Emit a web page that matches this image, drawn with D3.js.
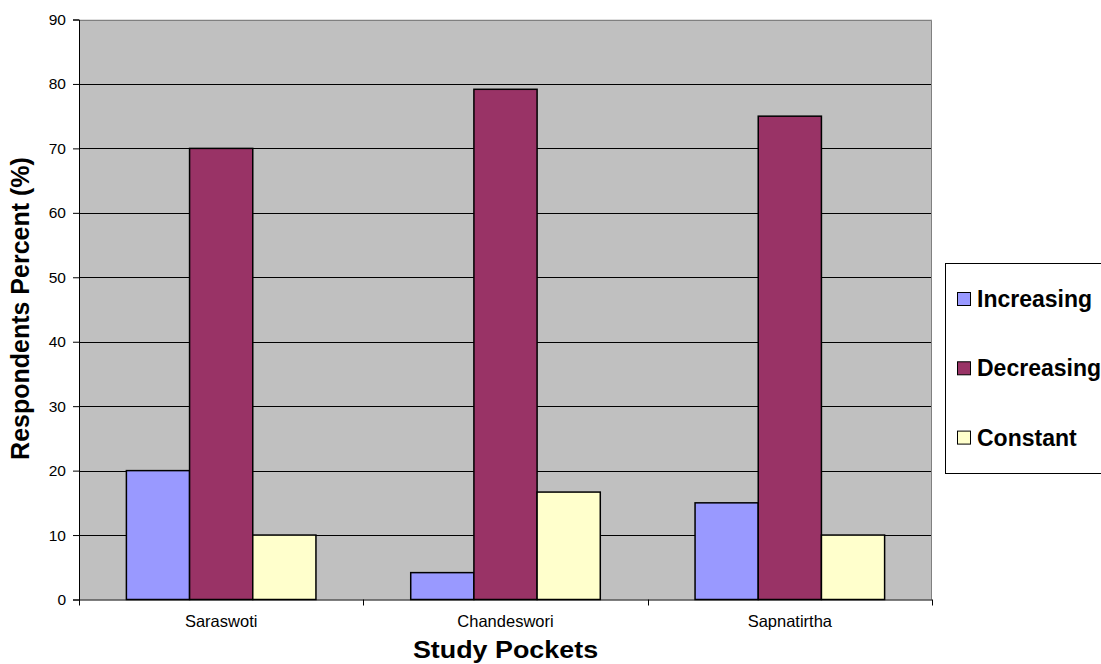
<!DOCTYPE html>
<html>
<head>
<meta charset="utf-8">
<script src="https://cdn.jsdelivr.net/npm/d3@7"></script>
<style>
  html, body { margin: 0; padding: 0; background: #ffffff; }
  svg { display: block; font-family: Arial, "Liberation Sans", sans-serif; }
</style>
</head>
<body>
<svg id="chart" width="1101" height="664"></svg>
<script>
// Study pockets and the share of respondents per perceived trend
const pockets = ["Saraswoti", "Chandeswori", "Sapnatirtha"];
const trends = ["Increasing", "Decreasing", "Constant"];
const increasing = [20, 4.17, 15];
const decreasing = [70, 79.17, 75];
const constant = [10, 16.67, 10];
const yTicks = [0, 10, 20, 30, 40, 50, 60, 70, 80, 90];
const trendColors = ["#9999ff", "#993366", "#ffffcc"];

const seriesValues = [increasing, decreasing, constant];

const svg = d3.select("#chart");
const plot = { left: 79, right: 932, top: 19.5, bottom: 599.5 };

const x0 = d3.scaleBand().domain(pockets).range([plot.left, plot.right]).padding(0);
const bw = x0.bandwidth();
const x1 = d3.scaleBand().domain(trends).range([bw / 6, bw * 5 / 6]).padding(0);
const y = d3.scaleLinear().domain([0, 90]).range([plot.bottom, plot.top]);
const color = d3.scaleOrdinal().domain(trends).range(trendColors);

// plot background
svg.append("rect")
  .attr("x", plot.left).attr("y", plot.top)
  .attr("width", plot.right - plot.left).attr("height", plot.bottom - plot.top)
  .attr("fill", "#c0c0c0");

// horizontal gridlines
svg.append("g").selectAll("line")
  .data(yTicks.filter(t => t > 0 && t < 90))
  .join("line")
  .attr("x1", plot.left).attr("x2", plot.right)
  .attr("y1", d => Math.round(y(d)) + 0.5).attr("y2", d => Math.round(y(d)) + 0.5)
  .attr("stroke", "#000").attr("stroke-width", 1);

// plot border (top and right)
svg.append("path")
  .attr("d", `M${plot.left},${Math.round(plot.top) + 0.5}H${plot.right - 0.5}V${plot.bottom}`)
  .attr("fill", "none").attr("stroke", "#808080").attr("stroke-width", 1);

// bars
const rows = pockets.map((p, i) => ({ pocket: p, values: trends.map((t, j) => ({ trend: t, value: seriesValues[j][i] })) }));
svg.append("g").selectAll("g")
  .data(rows)
  .join("g")
  .attr("transform", d => `translate(${x0(d.pocket)},0)`)
  .selectAll("rect")
  .data(d => d.values)
  .join("rect")
  .attr("x", d => x1(d.trend))
  .attr("y", d => y(d.value))
  .attr("width", x1.bandwidth())
  .attr("height", d => y(0) - y(d.value))
  .attr("fill", d => color(d.trend))
  .attr("stroke", "#000")
  .attr("stroke-width", 1.5);

// y axis
const yAxis = svg.append("g")
  .attr("transform", `translate(${plot.left},0)`)
  .call(d3.axisLeft(y).tickValues(yTicks).tickSize(6).tickPadding(7).tickFormat(d3.format("d")));
yAxis.select(".domain").attr("stroke", "#000");
yAxis.selectAll(".tick line").attr("stroke", "#000");
yAxis.selectAll(".tick text")
  .attr("font-family", "Arial, 'Liberation Sans', sans-serif")
  .attr("font-size", 15.5).attr("fill", "#000");

// x axis with ticks on the category boundaries
const xAxisG = svg.append("g").attr("transform", `translate(0,${plot.bottom})`);
xAxisG.append("line")
  .attr("x1", plot.left).attr("x2", plot.right)
  .attr("y1", 0.5).attr("y2", 0.5).attr("stroke", "#000");
const boundaries = pockets.map(p => x0(p)).concat([x0(pockets[pockets.length - 1]) + bw]);
xAxisG.selectAll("line.tick")
  .data(boundaries)
  .join("line")
  .attr("class", "tick")
  .attr("x1", d => Math.round(d) + 0.5).attr("x2", d => Math.round(d) + 0.5)
  .attr("y1", 0).attr("y2", 6).attr("stroke", "#000");
xAxisG.selectAll("text")
  .data(pockets)
  .join("text")
  .attr("x", d => x0(d) + bw / 2)
  .attr("y", 27.5)
  .attr("text-anchor", "middle")
  .attr("font-size", 16.5).attr("fill", "#000")
  .text(d => d);

// axis titles (slightly widened bold type)
svg.append("text")
  .attr("transform", `translate(${(plot.left + plot.right) / 2},657.5) scale(1.12,1)`)
  .attr("text-anchor", "middle")
  .attr("font-size", 24).attr("font-weight", "bold").attr("fill", "#000")
  .text("Study Pockets");

svg.append("text")
  .attr("transform", `translate(29,${(plot.top + plot.bottom) / 2 - 1}) rotate(-90)`)
  .attr("text-anchor", "middle")
  .attr("font-size", 25).attr("font-weight", "bold").attr("fill", "#000")
  .text("Respondents Percent (%)");

// legend
const legend = svg.append("g");
legend.append("rect")
  .attr("x", 945.5).attr("y", 263.5).attr("width", 170).attr("height", 210)
  .attr("fill", "#fff").attr("stroke", "#000").attr("stroke-width", 1);
const items = legend.selectAll("g.item")
  .data(trends)
  .join("g")
  .attr("class", "item")
  .attr("transform", (d, i) => `translate(0,${299 + i * 69.3})`);
items.append("rect")
  .attr("x", 957.5).attr("y", -6.5).attr("width", 13).attr("height", 13)
  .attr("fill", d => color(d)).attr("stroke", "#000").attr("stroke-width", 1);
items.append("text")
  .attr("x", 977).attr("y", 0).attr("dy", "0.35em")
  .attr("font-size", 23).attr("font-weight", "bold").attr("fill", "#000")
  .text(d => d);
</script>
</body>
</html>
